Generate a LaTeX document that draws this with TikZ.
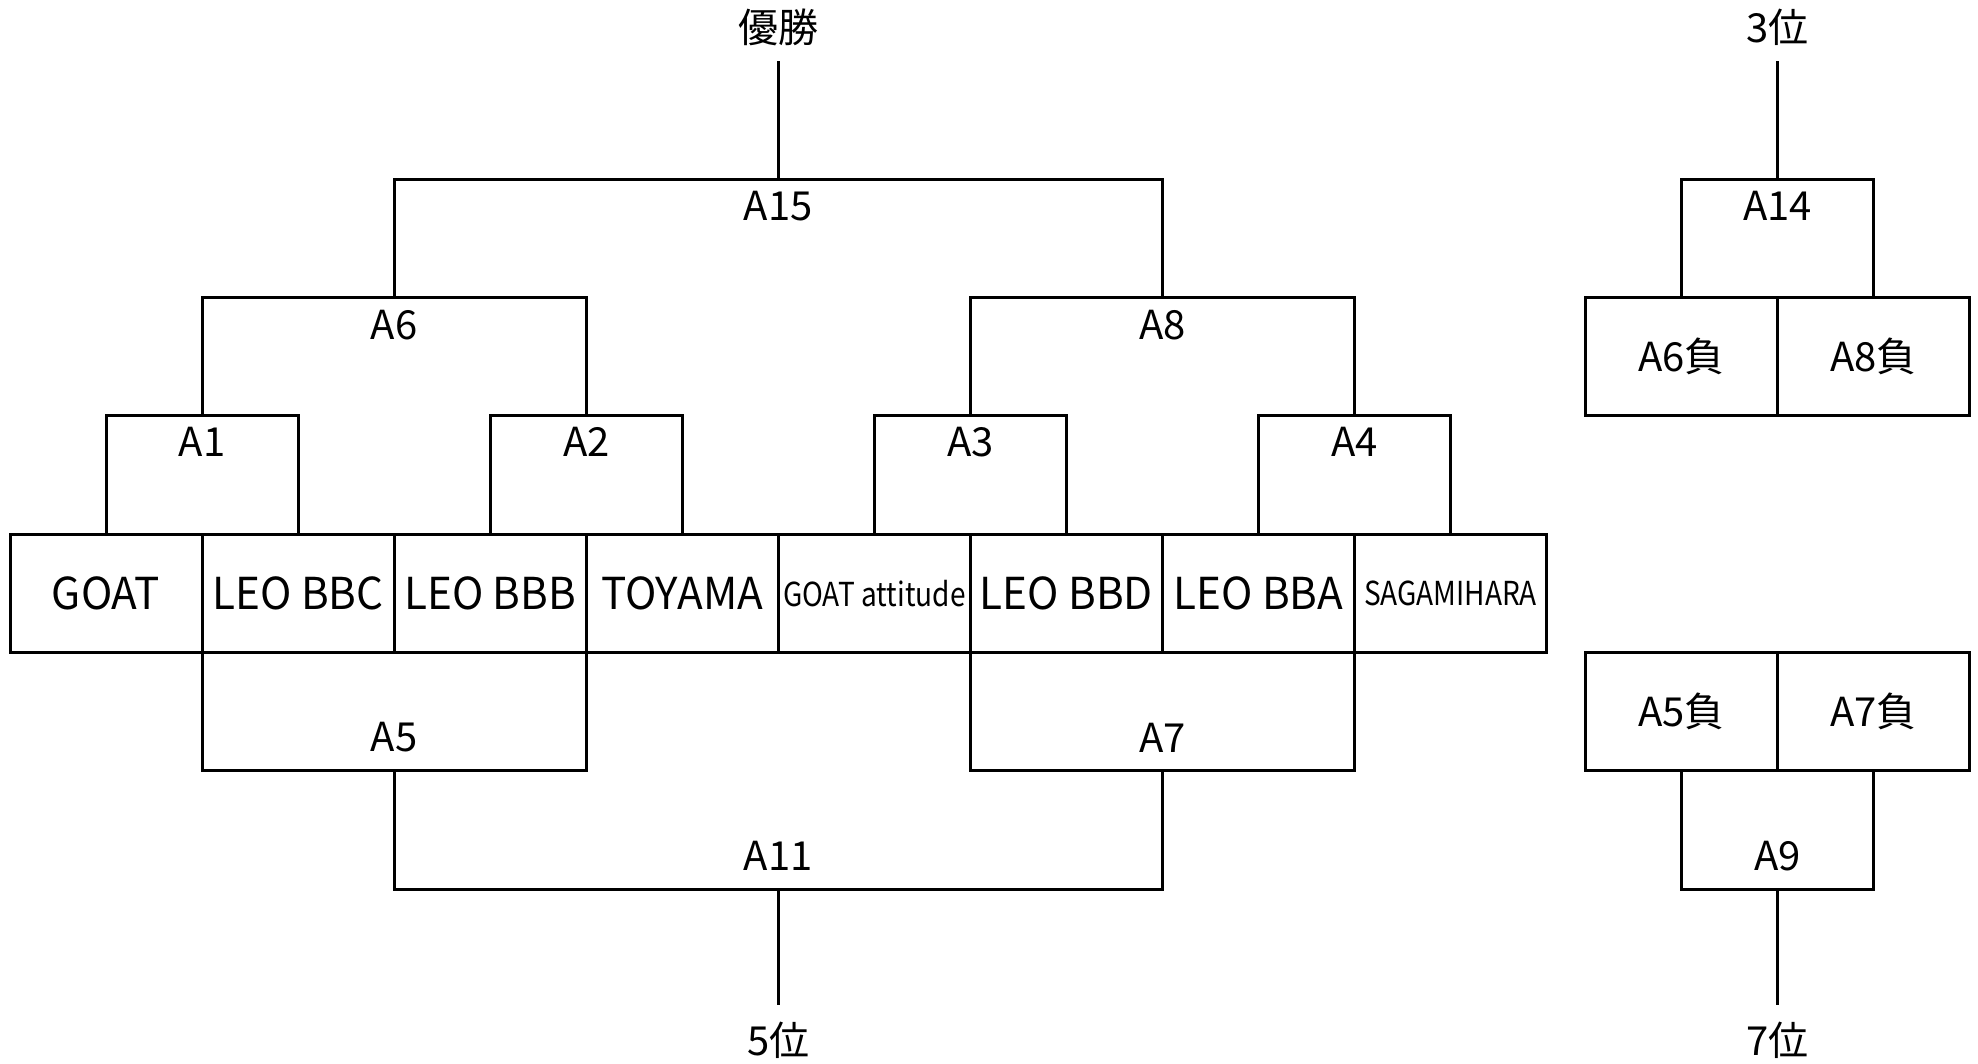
\documentclass[tikz,border=0pt]{standalone}
\usepackage{fontspec}
\setmainfont{Noto Sans CJK JP}
\newfontfamily\teamfont[FakeStretch=0.96]{Noto Sans CJK JP}
\newfontfamily\teamsmfont[FakeStretch=0.85]{Noto Sans CJK JP}
\begin{document}
\begin{tikzpicture}[x=0.63075pt,y=-0.63075pt,
  ln/.style={line width=1.5pt},
  box/.style={draw,line width=1.5pt,outer sep=0pt,minimum width=95.87pt,minimum height=58.66pt,inner sep=0pt},
  team/.style={box,minimum width=96.03pt,font=\teamfont\fontsize{22}{26}\selectfont},
  teamsm/.style={box,minimum width=96.03pt,font=\teamsmfont\fontsize{16.5}{20}\selectfont},
  loser/.style={box,font=\fontsize{20}{24}\selectfont},
  lbl/.style={inner sep=0pt,font=\fontsize{20}{24}\selectfont},
  lblb/.style={lbl,anchor=north},
  lbla/.style={lbl,anchor=south}]
\useasboundingbox (0,0) rectangle (1568,843);
% teams
\node[team] (t1) at (84.1,470.5) {GOAT};
\node[team] (t2) at (236.35,470.5) {LEO BBC};
\node[team] (t3) at (388.6,470.5) {LEO BBB};
\node[team] (t4) at (540.85,470.5) {TOYAMA};
\node[teamsm] (t5) at (693.1,470.5) {GOAT attitude};
\node[team] (t6) at (845.35,470.5) {LEO BBD};
\node[team] (t7) at (997.6,470.5) {LEO BBA};
\node[teamsm] (t8) at (1149.85,470.5) {SAGAMIHARA};
% upper bracket tops
\coordinate (c1) at (160.25,329);
\coordinate (c2) at (464.75,329);
\coordinate (c3) at (769.25,329);
\coordinate (c4) at (1073.75,329);
\coordinate (c6) at (312.5,236);
\coordinate (c8) at (921.5,236);
\coordinate (c15) at (617,142);
\coordinate (win) at (617,48);
\draw[ln] (t1.north) |- (c1) -| (t2.north);
\draw[ln] (t3.north) |- (c2) -| (t4.north);
\draw[ln] (t5.north) |- (c3) -| (t6.north);
\draw[ln] (t7.north) |- (c4) -| (t8.north);
\draw[ln] (c1) |- (c6) -| (c2);
\draw[ln] (c3) |- (c8) -| (c4);
\draw[ln] (c6) |- (c15) -| (c8);
\draw[ln] (c15) -- (win);
\node[lblb] (a1) at ([yshift=-6pt]c1) {A1};
\node[lblb] (a2) at ([yshift=-6pt]c2) {A2};
\node[lblb] (a3) at ([yshift=-6pt]c3) {A3};
\node[lblb] (a4) at ([yshift=-6pt]c4) {A4};
\node[lblb] (a6) at ([yshift=-6pt]c6) {A6};
\node[lblb] (a8) at ([yshift=-6pt]c8) {A8};
\node[lblb] (a15) at ([yshift=-6pt]c15) {A15};
\node[lbl] (winl) at (617,22) {優勝};
% lower brackets
\coordinate (c5) at (312.5,611);
\coordinate (c7) at (921.5,611);
\coordinate (c11) at (617,705);
\coordinate (fifth) at (617,797);
\draw[ln] (t2.south west) |- (c5) -| (t4.south west);
\draw[ln] (t6.south west) |- (c7) -| (t8.south west);
\draw[ln] (c5) |- (c11) -| (c7);
\draw[ln] (c11) -- (fifth);
\node[lbla] (a5) at ([yshift=9pt]c5) {A5};
\node[lbla] (a7) at ([yshift=9pt]c7) {A7};
\node[lbla] (a11) at ([yshift=9pt]c11) {A11};
\node[lbl] (fifthl) at (617,825) {5位};
% third place
\node[loser] (l6) at (1333,282.5) {A6負};
\node[loser] (l8) at (1485,282.5) {A8負};
\coordinate (c14) at (1409,142);
\coordinate (third) at (1409,48);
\draw[ln] (l6.north) |- (c14) -| (l8.north);
\draw[ln] (c14) -- (third);
\node[lblb] (a14) at ([yshift=-6pt]c14) {A14};
\node[lbl] (thirdl) at (1409,22) {3位};
% seventh place
\node[loser] (l5) at (1333,564) {A5負};
\node[loser] (l7) at (1485,564) {A7負};
\coordinate (c9) at (1409,705);
\coordinate (seventh) at (1409,797);
\draw[ln] (l5.south) |- (c9) -| (l7.south);
\draw[ln] (c9) -- (seventh);
\node[lbla] (a9) at ([yshift=9pt]c9) {A9};
\node[lbl] (seventhl) at (1409,825) {7位};
\end{tikzpicture}
\end{document}
